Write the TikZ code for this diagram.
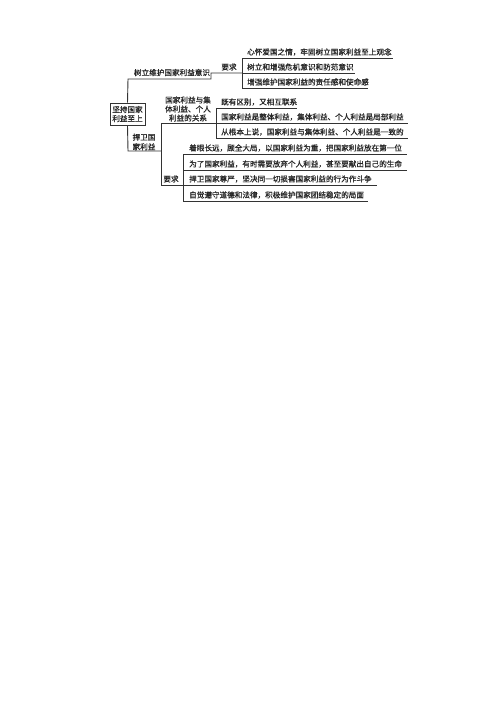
\documentclass[tikz,border=0pt]{standalone}
\usepackage{fontspec}
\newfontfamily\cjk[FakeBold=0.8]{Noto Sans CJK SC}
\begin{document}
\begin{tikzpicture}[x=1pt,y=-1pt,
  font=\cjk\fontsize{7.6}{9}\selectfont,
  ln/.style={draw=black!80, line width=0.9pt},
  item/.style={inner sep=0pt, anchor=west, text=black!85},
  lbl/.style={inner sep=0pt, align=center, text=black!85}]
\useasboundingbox[fill=white] (0,0) rectangle (500,707);
% root
\node[ln, lbl, minimum width=35pt, minimum height=22pt] (root) at (127.5,114) {坚持国家\\利益至上};
% branch 1
\node[lbl] (b1) at (172,72.5) {树立维护国家利益意识};
\node[lbl] (r1) at (229,67) {要求};
\node[item] (i11) at (247,52) {心怀爱国之情，牢固树立国家利益至上观念};
\node[item] (i12) at (247,67) {树立和增强危机意识和防范意识};
\node[item] (i13) at (247,82) {增强维护国家利益的责任感和使命感};
\coordinate (k1t) at (242,58);
\coordinate (k1m) at (242,73);
\coordinate (k1b) at (242,88);
\draw[ln] (root.north) -- (128,79) -- (211,79) -- (211,73) -- (k1m);
\draw[ln] (k1t) -- (k1b);
\draw[ln] (k1t) -- (393,58);
\draw[ln] (k1m) -- (355,73);
\draw[ln] (k1b) -- (368,88);
% branch 2
\node[lbl, font=\cjk\fontsize{7.6}{9.6}\selectfont] (b2) at (144,142) {捍卫国\\家利益};
\node[lbl] (g2) at (188,109) {国家利益与集\\体利益、个人\\利益的关系};
\node[item] (i21) at (221,102) {既有区别，又相互联系};
\node[item] (i22) at (221,117) {国家利益是整体利益，集体利益、个人利益是局部利益};
\node[item] (i23) at (221,132) {从根本上说，国家利益与集体利益、个人利益是一致的};
\coordinate (k2t) at (216,108);
\coordinate (k2m) at (216,123);
\coordinate (k2b) at (216,138);
\draw[ln] (root.south) -- (128,151) -- (161,151);
\draw[ln] (k2m) -- (161,123) -- (161,185) -- (183,185);
\draw[ln] (k2t) -- (k2b);
\draw[ln] (k2t) -- (297,108);
\draw[ln] (k2m) -- (408,123);
\draw[ln] (k2b) -- (408,138);
% branch 2 requirements
\node[lbl] (r3) at (171,179) {要求};
\node[item] (i31) at (189,148) {着眼长远，顾全大局，以国家利益为重，把国家利益放在第一位};
\node[item] (i32) at (189,164) {为了国家利益，有时需要放弃个人利益，甚至要献出自己的生命};
\node[item] (i33) at (189,179) {捍卫国家尊严，坚决同一切损害国家利益的行为作斗争};
\node[item] (i34) at (189,195) {自觉遵守道德和法律，积极维护国家团结稳定的局面};
\coordinate (k3a) at (183,154);
\coordinate (k3b) at (183,170);
\coordinate (k3c) at (183,185);
\coordinate (k3d) at (183,201);
\draw[ln] (k3a) -- (k3d);
\draw[ln] (k3a) -- (407,154);
\draw[ln] (k3b) -- (407,170);
\draw[ln] (k3c) -- (377,185);
\draw[ln] (k3d) -- (368,201);
\end{tikzpicture}
\end{document}
